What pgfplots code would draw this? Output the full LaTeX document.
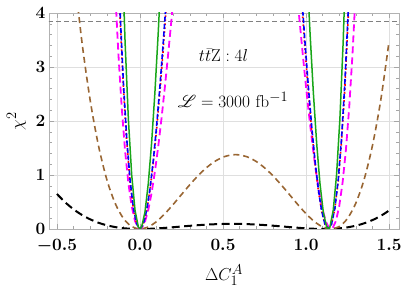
\documentclass[border=0pt]{standalone}
\usepackage{pgfplots}
\pgfplotsset{compat=1.18}
\usepackage{mathrsfs}
\definecolor{mbrown}{rgb}{0.6,0.4,0.2}
\definecolor{mgreen}{rgb}{0.1,0.65,0.1}
\definecolor{mmag}{rgb}{1,0,1}
\definecolor{mred}{rgb}{1,0,0}
\definecolor{mblue}{rgb}{0,0,1}
\begin{document}
\begin{tikzpicture}
\useasboundingbox (-49pt,-67pt) rectangle (358pt,229pt);
\begin{axis}[
  at={(0pt,0pt)}, anchor=south west,
  scale only axis, width=350pt, height=216pt,
  xmin=-0.548, xmax=1.56, ymin=0, ymax=4,
  axis line style={gray!60, line width=0.6pt},
  xtick={-0.5,0,0.5,1,1.5}, xticklabels={$-0.5$,$0.0$,$0.5$,$1.0$,$1.5$},
  ytick={0,1,2,3,4}, yticklabels={$0$,$1$,$2$,$3$,$4$},
  minor x tick num=4, minor y tick num=4,
  tick align=inside, tick pos=both, xticklabel pos=lower, yticklabel pos=left,
  major tick length=5pt, minor tick length=3pt,
  every tick/.style={gray!70, line width=0.5pt},
  grid=major, major grid style={gray!25, line width=0.5pt},
  ticklabel style={font=\fontsize{18}{20}\selectfont\boldmath},
  xticklabel style={yshift=-7pt},
  yticklabel style={yshift=0pt},
  xlabel={$\Delta C_1^A$}, ylabel={$\chi^2$},
  label style={font=\fontsize{19}{21}\selectfont},
  xlabel style={yshift=-5pt},
  ylabel style={yshift=3pt},
]
\addplot[gray, dash pattern=on 5pt off 3pt, line width=1pt] coordinates {(-0.6,3.84)(1.6,3.84)};
% black
\addplot[black, dash pattern=on 8pt off 4.5pt, line width=2pt, smooth] coordinates {
(-0.50,0.648)(-0.45,0.4928)(-0.40,0.3648)(-0.35,0.2611)(-0.30,0.1789)(-0.25,0.1156)(-0.20,0.0686)(-0.15,0.0357)(-0.10,0.01464)(-0.05,0.00336)(0,0)(0.05,0.00281)(0.10,0.0102)(0.15,0.0207)(0.20,0.0331)(0.25,0.0462)(0.30,0.0590)(0.35,0.0708)(0.40,0.0807)(0.45,0.0882)(0.50,0.0930)(0.555,0.0949)(0.61,0.0930)(0.66,0.0882)(0.71,0.0807)(0.76,0.0708)(0.81,0.0590)(0.86,0.0462)(0.91,0.0331)(0.96,0.0207)(1.01,0.0102)(1.06,0.00281)(1.11,0)(1.16,0.00336)(1.21,0.01464)(1.26,0.0357)(1.31,0.0686)(1.36,0.1156)(1.41,0.1789)(1.46,0.2611)(1.50,0.3422)};
% brown
\addplot[mbrown, dash pattern=on 6pt off 4pt, line width=1.6pt, smooth] coordinates {
(-0.40,4.843)(-0.35,3.473)(-0.30,2.384)(-0.25,1.5435)(-0.20,0.9185)(-0.15,0.4791)(-0.10,0.1969)(-0.05,0.0454)(0,0)(0.05,0.0381)(0.10,0.1389)(0.15,0.2835)(0.20,0.4549)(0.25,0.6379)(0.30,0.8193)(0.35,0.9878)(0.40,1.134)(0.45,1.2502)(0.50,1.3309)(0.55,1.3721)(0.575,1.3773)(0.60,1.3721)(0.65,1.3309)(0.70,1.2502)(0.75,1.134)(0.80,0.9878)(0.85,0.8193)(0.90,0.6379)(0.95,0.4549)(1.00,0.2835)(1.05,0.1389)(1.10,0.0381)(1.15,0)(1.20,0.0454)(1.25,0.1969)(1.30,0.4791)(1.35,0.9185)(1.40,1.5435)(1.45,2.384)(1.50,3.473)};
% magenta
\addplot[mmag, dash pattern=on 7pt off 4pt, line width=1.8pt] coordinates {
(-0.17,5.892)(-0.15,4.449)(-0.13,3.240)(-0.11,2.248)(-0.09,1.457)(-0.07,0.853)(-0.05,0.421)(-0.03,0.1466)(-0.01,0.0157)(0,0)(0.01,0.0152)(0.03,0.1321)(0.05,0.354)(0.07,0.669)(0.09,1.065)(0.11,1.531)(0.13,2.057)(0.15,2.633)(0.17,3.247)(0.19,3.893)(0.21,4.559)(0.23,5.239)(0.92,5.239)(0.94,4.559)(0.96,3.893)(0.98,3.247)(1.00,2.633)(1.02,2.057)(1.04,1.531)(1.06,1.065)(1.08,0.669)(1.10,0.354)(1.12,0.1321)(1.14,0.0152)(1.15,0)(1.16,0.0157)(1.18,0.1466)(1.20,0.421)(1.22,0.853)(1.24,1.457)(1.26,2.248)(1.28,3.240)(1.30,4.449)(1.32,5.892)};
% red
\addplot[mred, dash pattern=on 1.6pt off 2.4pt, line width=1.6pt] coordinates {
(-0.14,5.472)(-0.12,3.895)(-0.10,2.620)(-0.08,1.622)(-0.06,0.883)(-0.04,0.379)(-0.02,0.0916)(0,0)(0.02,0.0854)(0.04,0.330)(0.06,0.714)(0.08,1.223)(0.10,1.839)(0.12,2.546)(0.14,3.331)(0.16,4.177)(0.18,5.072)(0.954,5.072)(0.974,4.177)(0.994,3.331)(1.014,2.546)(1.034,1.839)(1.054,1.223)(1.074,0.714)(1.094,0.330)(1.114,0.0854)(1.134,0)(1.154,0.0916)(1.174,0.379)(1.194,0.883)(1.214,1.622)(1.234,2.620)(1.254,3.895)(1.274,5.472)};
% blue
\addplot[mblue, dash pattern=on 5pt off 2.5pt, line width=1.6pt] coordinates {
(-0.14,5.663)(-0.12,4.031)(-0.10,2.711)(-0.08,1.679)(-0.06,0.914)(-0.04,0.3925)(-0.02,0.0948)(0,0)(0.02,0.0884)(0.04,0.341)(0.06,0.739)(0.08,1.266)(0.10,1.903)(0.12,2.635)(0.14,3.447)(0.16,4.323)(0.18,5.249)(0.954,5.249)(0.974,4.323)(0.994,3.447)(1.014,2.635)(1.034,1.903)(1.054,1.266)(1.074,0.739)(1.094,0.341)(1.114,0.0884)(1.134,0)(1.154,0.0948)(1.174,0.3925)(1.194,0.914)(1.214,1.679)(1.234,2.711)(1.254,4.031)(1.274,5.663)};
% green
\addplot[mgreen, line width=1.5pt] coordinates {
(-0.11,5.374)(-0.09,3.483)(-0.07,2.039)(-0.05,1.006)(-0.03,0.350)(-0.01,0.0376)(0,0)(0.01,0.0363)(0.03,0.315)(0.05,0.843)(0.07,1.592)(0.09,2.534)(0.11,3.641)(0.13,4.889)(1.004,4.889)(1.024,3.641)(1.044,2.534)(1.064,1.592)(1.084,0.843)(1.104,0.315)(1.124,0.0363)(1.134,0)(1.144,0.0376)(1.164,0.350)(1.184,1.006)(1.204,2.039)(1.224,3.483)(1.244,5.374)};
\node[font=\fontsize{19}{21}\selectfont] at (axis cs:0.503,3.22) {$t\bar{t}\mathrm{Z}:4l$};
\node[font=\fontsize{19}{21}\selectfont] at (axis cs:0.56,2.39) {$\mathscr{L}=3000~\mathrm{fb}^{-1}$};
\end{axis}
\end{tikzpicture}
\end{document}
